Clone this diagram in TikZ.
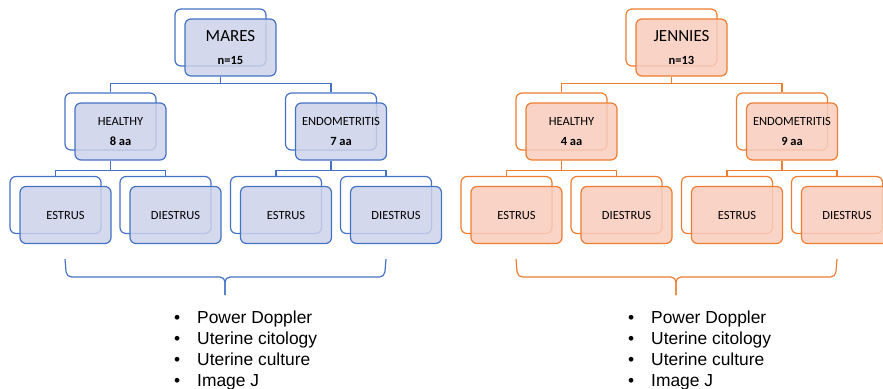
\documentclass[tikz,border=0pt]{standalone}
\usepackage{fontspec}
\setmainfont{Carlito}
\newfontfamily\listfont{Liberation Sans}
\usetikzlibrary{positioning}
\definecolor{maresline}{HTML}{4472C4}
\definecolor{maresfill}{HTML}{CCD2EA}
\definecolor{jennline}{HTML}{ED7D31}
\definecolor{jennfill}{HTML}{F8CDBD}
\tikzset{
  backbox/.style={rounded corners=6pt,line width=1.2pt,fill=white,minimum width=91pt,minimum height=57pt,inner sep=0pt},
  frontbox/.style={backbox,fill opacity=0.85,text opacity=1,align=center,font=\fontsize{12.5}{20}\selectfont},
  link/.style={line width=1.2pt},
  listtext/.style={anchor=north west,inner sep=0pt,align=left,font=\listfont\fontsize{17.4}{21}\selectfont},
}
\newcommand{\stackBox}[6]{%
    \node[backbox,draw=#5] (#1b) at (#2,#3) {};
    \node[frontbox,draw=#5,fill=#6] (#1) at ({#2+10},{#3+10}) {#4};
}
\newcommand{\itm}[1]{\makebox[23pt][l]{\textbullet}#1}

\begin{document}
\begin{tikzpicture}[x=1pt,y=-1pt]
    \useasboundingbox (0,0) rectangle (883,388);
    \clip (0,0) rectangle (883,388);
    %mares
    \stackBox{M}{220.5}{37.5}{{\fontsize{17}{20}\selectfont MARES}\\[3pt]\textbf{n=15}}{maresline}{maresfill}
    \stackBox{MH}{110.5}{121.5}{HEALTHY\\\textbf{8 aa}}{maresline}{maresfill}
    \stackBox{ME}{331}{121.5}{ENDOMETRITIS\\\textbf{7 aa}}{maresline}{maresfill}
    \stackBox{MHe}{55.5}{205}{ESTRUS}{maresline}{maresfill}
    \stackBox{MHd}{165.5}{205}{DIESTRUS}{maresline}{maresfill}
    \stackBox{MEe}{276}{205}{ESTRUS}{maresline}{maresfill}
    \stackBox{MEd}{386}{205}{DIESTRUS}{maresline}{maresfill}
    %jennies
    \stackBox{J}{671.5}{37.5}{{\fontsize{17}{20}\selectfont JENNIES}\\[3pt]\textbf{n=13}}{jennline}{jennfill}
    \stackBox{JH}{561.5}{121.5}{HEALTHY\\\textbf{4 aa}}{jennline}{jennfill}
    \stackBox{JE}{782}{121.5}{ENDOMETRITIS\\\textbf{9 aa}}{jennline}{jennfill}
    \stackBox{JHe}{506.5}{205}{ESTRUS}{jennline}{jennfill}
    \stackBox{JHd}{616.5}{205}{DIESTRUS}{jennline}{jennfill}
    \stackBox{JEe}{727}{205}{ESTRUS}{jennline}{jennfill}
    \stackBox{JEd}{837}{205}{DIESTRUS}{jennline}{jennfill}
    %E mares
    \draw[link,maresline] (M.south -| Mb.center) -- ++(0,7) coordinate (Mj) -| (MHb.north);
    \draw[link,maresline] (Mj) -| (MEb.north);
    \draw[link,maresline] (MH.south -| MHb.center) -- ++(0,10) coordinate (MHj) -| (MHeb.north);
    \draw[link,maresline] (MHj) -| (MHdb.north);
    \draw[link,maresline] (ME.south -| MEb.center) -- ++(0,10) coordinate (MEj) -| (MEeb.north);
    \draw[link,maresline] (MEj) -| (MEdb.north);
    %E jennies
    \draw[link,jennline] (J.south -| Jb.center) -- ++(0,7) coordinate (Jj) -| (JHb.north);
    \draw[link,jennline] (Jj) -| (JEb.north);
    \draw[link,jennline] (JH.south -| JHb.center) -- ++(0,10) coordinate (JHj) -| (JHeb.north);
    \draw[link,jennline] (JHj) -| (JHdb.north);
    \draw[link,jennline] (JE.south -| JEb.center) -- ++(0,10) coordinate (JEj) -| (JEeb.north);
    \draw[link,jennline] (JEj) -| (JEdb.north);
    %braces
    \draw[link,maresline,rounded corners=5pt] (65,259) -- (66.5,277) -- (225,277) -- (225,295);
    \draw[link,maresline,rounded corners=5pt] (386,259) -- (384.5,277) -- (225,277) -- (225,295);
    \draw[link,jennline,rounded corners=5pt] (516,259) -- (517.5,277) -- (676,277) -- (676,295);
    \draw[link,jennline,rounded corners=5pt] (837,259) -- (835.5,277) -- (676,277) -- (676,295);
    %lists
    \node[listtext] (Mlist) at (174,310.5) {\itm{Power Doppler}\\\itm{Uterine citology}\\\itm{Uterine culture}\\\itm{Image J}};
    \node[listtext] (Jlist) at (628,310.5) {\itm{Power Doppler}\\\itm{Uterine citology}\\\itm{Uterine culture}\\\itm{Image J}};
\end{tikzpicture}
\end{document}
